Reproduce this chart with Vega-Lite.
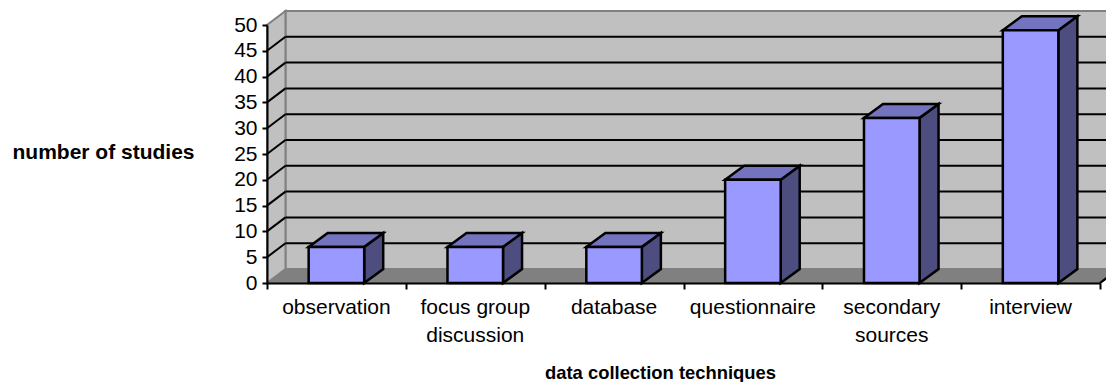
{
  "$schema": "https://vega.github.io/schema/vega-lite/v6.json",
  "width": 833,
  "height": 258,
  "autosize": "none",
  "padding": {"left": 267, "top": 25, "right": 6, "bottom": 99},
  "background": "white",
  "datasets": {
    "studies": [
      {"technique": "observation", "studies": 7},
      {"technique": "focus group\ndiscussion", "studies": 7},
      {"technique": "database", "studies": 7},
      {"technique": "questionnaire", "studies": 20},
      {"technique": "secondary\nsources", "studies": 32},
      {"technique": "interview", "studies": 49}
    ],
    "levels": [
      {"level": 5}, {"level": 10}, {"level": 15}, {"level": 20}, {"level": 25},
      {"level": 30}, {"level": 35}, {"level": 40}, {"level": 45}
    ],
    "edges": [{"edge": 0}, {"edge": 1}]
  },
  "layer": [
    {
      "data": {"name": "edges"},
      "mark": {"type": "rect", "fill": "#c0c0c0", "stroke": "#808080", "strokeWidth": 2},
      "encoding": {
        "x": {
          "datum": 0.133,
          "type": "quantitative",
          "scale": {"domain": [0, 6], "nice": false, "zero": false},
          "axis": {
            "values": [0, 1, 2, 3, 4, 5, 6],
            "tickCount": 7,
            "labels": false,
            "grid": false,
            "domainColor": "black",
            "domainWidth": 2,
            "tickColor": "black",
            "tickWidth": 2,
            "tickSize": 6,
            "title": "data collection techniques",
            "titleFont": "Liberation Sans",
            "titleFontWeight": "bold",
            "titleFontSize": 18.4,
            "titleColor": "black",
            "titleAlign": "center",
            "titleBaseline": "middle",
            "titleX": 393,
            "titleY": 89,
            "zindex": 1
          }
        },
        "x2": {"datum": 6.3},
        "y": {
          "datum": 2.71,
          "type": "quantitative",
          "scale": {"domain": [0, 50], "nice": false},
          "axis": {
            "values": [0, 5, 10, 15, 20, 25, 30, 35, 40, 45, 50],
            "tickCount": 11,
            "grid": false,
            "domainColor": "black",
            "domainWidth": 2,
            "tickColor": "black",
            "tickWidth": 2,
            "tickSize": 5,
            "labelFont": "Liberation Sans",
            "labelFontSize": 21,
            "labelColor": "black",
            "labelPadding": 5,
            "labelOverlap": false,
            "labelBound": false,
            "labelFlush": false,
            "title": "number of studies",
            "titleFont": "Liberation Sans",
            "titleFontWeight": "bold",
            "titleFontSize": 21,
            "titleColor": "black",
            "titleAngle": 0,
            "titleAlign": "center",
            "titleBaseline": "middle",
            "titleX": -164,
            "titleY": 127,
            "zindex": 1
          }
        },
        "y2": {"datum": 52.71}
      }
    },
    {
      "data": {"name": "edges"},
      "transform": [
        {"calculate": "datum.edge * 0.133", "as": "wx"},
        {"calculate": "datum.edge * 2.71", "as": "wy0"},
        {"calculate": "50 + datum.edge * 2.71", "as": "wy1"}
      ],
      "mark": {"type": "area", "orient": "vertical", "fill": "#c0c0c0", "stroke": "#808080", "strokeWidth": 2},
      "encoding": {
        "x": {"field": "wx", "type": "quantitative"},
        "y": {"field": "wy0", "type": "quantitative"},
        "y2": {"field": "wy1"}
      }
    },
    {
      "data": {"name": "edges"},
      "transform": [
        {"calculate": "datum.edge * 0.133", "as": "fx0"},
        {"calculate": "6 + datum.edge * 0.133", "as": "fx1"},
        {"calculate": "datum.edge * 2.71", "as": "fy"}
      ],
      "mark": {"type": "area", "orient": "horizontal", "fill": "#808080"},
      "encoding": {
        "y": {"field": "fy", "type": "quantitative"},
        "x": {"field": "fx0", "type": "quantitative"},
        "x2": {"field": "fx1"}
      }
    },
    {
      "data": {"name": "levels"},
      "transform": [{"calculate": "datum.level + 2.71", "as": "backLevel"}],
      "mark": {"type": "rule", "color": "black", "strokeWidth": 2},
      "encoding": {
        "x": {"datum": 0.133, "type": "quantitative"},
        "x2": {"datum": 6.3},
        "y": {"field": "backLevel", "type": "quantitative"}
      }
    },
    {
      "data": {"name": "levels"},
      "transform": [{"calculate": "datum.level + 2.71", "as": "backLevel"}],
      "mark": {"type": "rule", "color": "black", "strokeWidth": 2},
      "encoding": {
        "x": {"datum": 0, "type": "quantitative"},
        "x2": {"datum": 0.133},
        "y": {"field": "level", "type": "quantitative"},
        "y2": {"field": "backLevel"}
      }
    },
    {
      "data": {"name": "edges"},
      "mark": {"type": "rule", "color": "black", "strokeWidth": 2},
      "encoding": {
        "x": {"datum": 6, "type": "quantitative"},
        "x2": {"datum": 6.133},
        "y": {"datum": 0, "type": "quantitative"},
        "y2": {"datum": 2.71}
      }
    },
    {
      "data": {"name": "studies"},
      "transform": [
        {"window": [{"op": "row_number", "as": "slot"}]},
        {"calculate": "datum.slot - 0.7", "as": "left"},
        {"calculate": "datum.slot - 0.3", "as": "right"},
        {"calculate": "[0, 1]", "as": "edge"},
        {"flatten": ["edge"]},
        {"calculate": "datum.right + datum.edge * 0.137", "as": "sx"},
        {"calculate": "datum.edge * 2.71", "as": "sy0"},
        {"calculate": "datum.studies + datum.edge * 2.71", "as": "sy1"}
      ],
      "mark": {"type": "area", "orient": "vertical", "fill": "#4d4d80", "stroke": "black", "strokeWidth": 2.5, "strokeJoin": "miter"},
      "encoding": {
        "x": {"field": "sx", "type": "quantitative"},
        "y": {"field": "sy0", "type": "quantitative"},
        "y2": {"field": "sy1"},
        "detail": {"field": "technique"}
      }
    },
    {
      "data": {"name": "studies"},
      "transform": [
        {"window": [{"op": "row_number", "as": "slot"}]},
        {"calculate": "datum.slot - 0.7", "as": "left"},
        {"calculate": "datum.slot - 0.3", "as": "right"},
        {"calculate": "[0, 1]", "as": "edge"},
        {"flatten": ["edge"]},
        {"calculate": "datum.left + datum.edge * 0.137", "as": "tx0"},
        {"calculate": "datum.right + datum.edge * 0.137", "as": "tx1"},
        {"calculate": "datum.studies + datum.edge * 2.71", "as": "ty"}
      ],
      "mark": {"type": "area", "orient": "horizontal", "fill": "#7373bf", "stroke": "black", "strokeWidth": 2.5, "strokeJoin": "miter"},
      "encoding": {
        "y": {"field": "ty", "type": "quantitative"},
        "x": {"field": "tx0", "type": "quantitative"},
        "x2": {"field": "tx1"},
        "detail": {"field": "technique"}
      }
    },
    {
      "data": {"name": "studies"},
      "transform": [
        {"window": [{"op": "row_number", "as": "slot"}]},
        {"calculate": "datum.slot - 0.7", "as": "left"},
        {"calculate": "datum.slot - 0.3", "as": "right"}
      ],
      "mark": {"type": "rect", "fill": "#9999ff", "stroke": "black", "strokeWidth": 2.5},
      "encoding": {
        "x": {"field": "left", "type": "quantitative"},
        "x2": {"field": "right"},
        "y": {"field": "studies", "type": "quantitative"},
        "y2": {"datum": 0}
      }
    },
    {
      "data": {"name": "studies"},
      "transform": [
        {"window": [{"op": "row_number", "as": "slot"}]},
        {"calculate": "datum.slot - 0.5", "as": "center"}
      ],
      "mark": {
        "type": "text",
        "font": "Liberation Sans",
        "fontSize": 21,
        "color": "black",
        "lineBreak": "\n",
        "lineHeight": 28,
        "baseline": "middle",
        "align": "center",
        "dy": 25
      },
      "encoding": {
        "x": {"field": "center", "type": "quantitative"},
        "y": {"datum": 0, "type": "quantitative"},
        "text": {"field": "technique"}
      }
    }
  ]
}
